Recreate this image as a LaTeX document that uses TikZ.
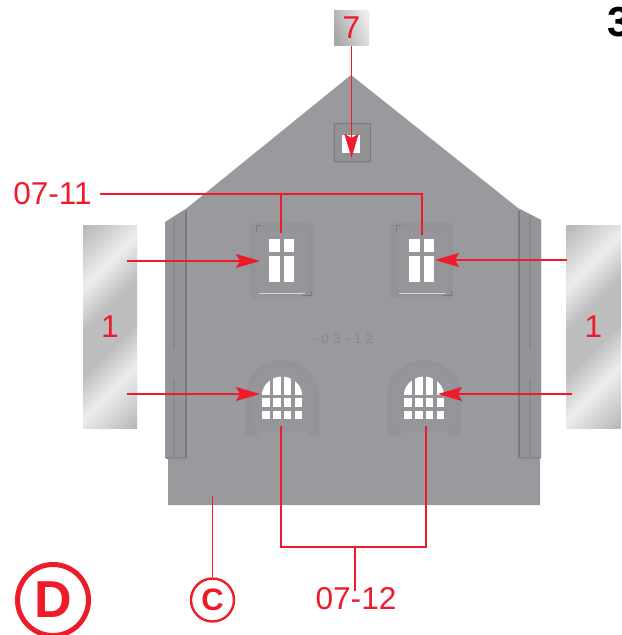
\documentclass[tikz,border=0pt]{standalone}
\usepackage{fontspec}
\setmainfont{Liberation Sans}
\usetikzlibrary{calc,arrows.meta}
\definecolor{partred}{HTML}{EE1C2B}
\definecolor{wallgray}{HTML}{9A9A9E}
\definecolor{plategray}{HTML}{96969A}
\definecolor{rimgray}{HTML}{89898D}
\definecolor{darkgray}{HTML}{7B7B7F}
\pgfdeclareverticalshading{mirror}{100bp}{color(0bp)=(black!28);
  color(32bp)=(black!30); color(41bp)=(black!7); color(47bp)=(black!26); color(53bp)=(black!26);
  color(59bp)=(black!7); color(68bp)=(black!30); color(100bp)=(black!28)}

\begin{document}
\begin{tikzpicture}[x=0.5pt, y=-0.5pt, >={Stealth[length=12pt,width=7pt,inset=2pt]},
    lbl/.style={text=partred, font=\fontsize{15.8}{15.8}\selectfont, inner sep=0pt},
    sidepane/.style={minimum width=27pt, minimum height=101pt, inner sep=0pt,
                 text=partred, font=\fontsize{15.8}{15.8}\selectfont,
                 path picture={\shade[shading=mirror, shading angle=45]
                   ($(path picture bounding box.center)+(-130,-130)$) rectangle +(260,260);}},
    link/.style={draw=partred, line width=0.85pt},
    pane/.style={fill=white},
    rim/.style={fill=rimgray!35!wallgray},
    plate/.style={fill=plategray}]
  \useasboundingbox (0,0) rectangle (621,635);
  \fill[white] (0,0) rectangle (621,635);

  \fill[wallgray] (351,75) -- (187,208) -- (165,222) -- (165,458) -- (168,458) -- (168,505)
        -- (540,505) -- (540,458) -- (541,458) -- (541,220) -- (518,208) -- cycle;
  \fill[wallgray!97!black] (166,222) -- (186,209) -- (186,458) -- (166,458) -- cycle;
  \fill[wallgray!97!black] (519,209) -- (541,220) -- (541,458) -- (519,458) -- cycle;
  \draw[darkgray, line width=0.8pt] (186,211) -- (186,458);
  \draw[darkgray, line width=0.8pt] (519,211) -- (519,458);
  \draw[rimgray, line width=0.6pt] (186,458) -- (166,458) (519,458) -- (540,458);
  \draw[rimgray, line width=0.8pt] (174,219) -- (174,350) (174,378) -- (174,458);
  \draw[rimgray, line width=0.8pt] (530,216) -- (530,350) (530,378) -- (530,458);
  \node[text=rimgray, inner sep=0pt, font=\fontsize{7}{7}\selectfont\addfontfeature{LetterSpace=30}]
        (stamp) at (343,339) {-03-12};

  \fill[rimgray!50!wallgray] (333,123) rectangle (371,163);
  \draw[darkgray, line width=0.5pt] (334,124) rectangle (370,162);
  \fill[pane] (342,135) rectangle (360,153);

  \foreach \wx in {0,70} {
  \begin{scope}[xshift=\wx pt]
  \fill[rim, rounded corners=2pt] (250,223) rectangle (313,299);
  \fill[plate, rounded corners=2pt] (257,227) rectangle (307,293);
  \draw[white!60!plategray, line width=0.5pt] (259,293.5) -- (305,293.5);
  \draw[darkgray, line width=0.5pt] (261,226) -- (256,226) -- (256,232);
  \draw[darkgray, line width=0.5pt] (302,296) -- (311,296) -- (311,291);
  \fill[pane] (269,239) rectangle (280,252);
  \fill[pane] (283.5,239) rectangle (294,252);
  \fill[pane] (269,256) rectangle (280,282);
  \fill[pane] (283.5,256) rectangle (294,282);
  \end{scope}}

  \foreach \wx in {0,71} {
  \begin{scope}[xshift=\wx pt]
  \fill[rim] (245,436) -- (245,397) arc[start angle=180, end angle=0, radius=18.5pt]
        -- (319,436) -- (307,436) -- (307,432) -- (258,432) -- (258,436) -- cycle;
  \fill[plate, rounded corners=1.5pt] (251,430) -- (251,396)
        arc[start angle=180, end angle=0, radius=15.5pt] -- (313,430) -- cycle;
  \foreach \px in {262,273,283.5,294.5} {
    \fill[pane] (\px,398) rectangle +(7.5,9);
    \fill[pane] (\px,411) rectangle +(7.5,8);
  }
  \begin{scope}
  \clip (282,397) circle[radius=10.25pt];
  \foreach \px in {262,273,283.5,294.5} \fill[pane] (\px,376) rectangle +(7.5,19);
  \end{scope}
  \end{scope}}

  \node[sidepane] (left1) at (110,327) {1};
  \node[sidepane] (right1) at (593.5,327) {1};
  \node[minimum size=17.5pt, inner sep=0pt, text=partred, shading=axis,
        bottom color=black!34, top color=black!8, shading angle=-70,
        font=\fontsize{15.8}{15.8}\selectfont] (box7) at (351.5,28) {7};

  \node[lbl] (lab11) at (52.5,194) {07-11};
  \node[lbl] (lab12) at (356,599) {07-12};
  \node[circle, draw=partred, line width=2.5pt, minimum size=35.5pt, inner sep=0pt,
        text=partred, font=\fontsize{26}{26}\selectfont\bfseries] (markD) at (53,600) {D};
  \node[circle, draw=partred, line width=1.2pt, minimum size=21.5pt, inner sep=0pt,
        text=partred, font=\fontsize{15.5}{15.5}\selectfont\bfseries] (markC) at (212.5,600) {C};
  \node[anchor=west, inner sep=0pt, font=\fontsize{21}{21}\selectfont\bfseries] (page3) at (607,22) {3};

  \coordinate (from11) at (100,194);
  \coordinate (turn11a) at (281,194);
  \coordinate (turn11b) at (422,194);
  \coordinate (top11a) at (281,233);
  \coordinate (top11b) at (422,235);
  \coordinate (tipLa) at (260,261);
  \coordinate (tipLb) at (260,394);
  \coordinate (tipRa) at (435,260);
  \coordinate (tipRb) at (438,394);
  \coordinate (fromLa) at (127,261);
  \coordinate (fromLb) at (127,394);
  \coordinate (fromRa) at (567,260);
  \coordinate (fromRb) at (572,394);
  \coordinate (tip7) at (351.5,158);
  \coordinate (foot12a) at (281,426);
  \coordinate (foot12b) at (426,426);
  \coordinate (low12a) at (281,547);
  \coordinate (low12b) at (426,547);
  \coordinate (mid12) at (355,547);
  \coordinate (end12) at (355,591);
  \coordinate (baseC) at (212.5,496);

  \draw[link] (from11) -- (turn11b) -- (top11b);
  \draw[link] (turn11a) -- (top11a);
  \draw[link, ->] (fromLa) -- (tipLa);
  \draw[link, ->] (fromLb) -- (tipLb);
  \draw[link, ->] (fromRa) -- (tipRa);
  \draw[link, ->] (fromRb) -- (tipRb);
  \draw[link, ->] (box7) -- (tip7);
  \draw[link] (foot12a) -- (low12a) -- (low12b) -- (foot12b);
  \draw[link] (mid12) -- (end12);
  \draw[link] (baseC) -- (markC.north);
\end{tikzpicture}
\end{document}
